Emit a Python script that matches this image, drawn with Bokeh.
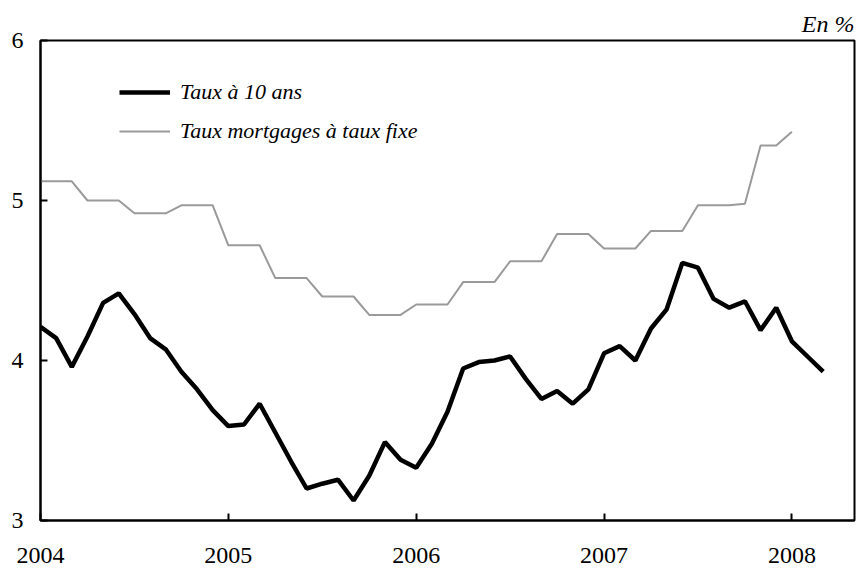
from bokeh.plotting import figure
from bokeh.models import Range1d, FixedTicker, Legend, LegendItem, Title
from bokeh.embed import file_html
from bokeh.resources import INLINE

# Monthly data, January 2004 onwards
start_year = 2004
taux_10_ans = [4.21, 4.14, 3.96, 4.15, 4.36, 4.42, 4.29, 4.14, 4.07, 3.93, 3.82, 3.69,
               3.59, 3.60, 3.73, 3.55, 3.37, 3.20, 3.23, 3.255, 3.125, 3.28, 3.49, 3.38,
               3.33, 3.48, 3.68, 3.95, 3.99, 4.00, 4.025, 3.885, 3.76, 3.81, 3.73, 3.82,
               4.045, 4.09, 4.00, 4.20, 4.32, 4.61, 4.58, 4.385, 4.33, 4.37, 4.19, 4.33,
               4.12, 4.025, 3.93]
taux_mortgages = [5.12, 5.12, 5.12, 5.00, 5.00, 5.00, 4.92, 4.92, 4.92, 4.97, 4.97, 4.97,
                  4.72, 4.72, 4.72, 4.515, 4.515, 4.515, 4.40, 4.40, 4.40, 4.285, 4.285, 4.285,
                  4.35, 4.35, 4.35, 4.49, 4.49, 4.49, 4.62, 4.62, 4.62, 4.79, 4.79, 4.79,
                  4.70, 4.70, 4.70, 4.81, 4.81, 4.81, 4.97, 4.97, 4.97, 4.98, 5.344, 5.344,
                  5.43]
x_ticks = [2004, 2005, 2006, 2007, 2008]
y_ticks = [3, 4, 5, 6]
labels = ["Taux à 10 ans", "Taux mortgages à taux fixe"]
unit_label = "En %"

x10 = [start_year + i / 12 for i in range(len(taux_10_ans))]
xm = [start_year + i / 12 for i in range(len(taux_mortgages))]

FONT = "Liberation Serif"

p = figure(width=859, height=569, output_backend="svg", toolbar_location=None,
           x_range=Range1d(2004, 2008 + 4 / 12), y_range=Range1d(3, 6),
           min_border_left=40, min_border_top=40, min_border_right=5, min_border_bottom=49)
p.background_fill_color = "white"
p.border_fill_color = "white"
p.outline_line_color = "black"
p.outline_line_width = 2
p.xgrid.visible = False
p.ygrid.visible = False

r_gray = p.line(xm, taux_mortgages, line_color="#9a9a9a", line_width=2)
r_black = p.line(x10, taux_10_ans, line_color="black", line_width=4.5)

for ax in (p.xaxis[0], p.yaxis[0]):
    ax.axis_line_color = "black"
    ax.axis_line_width = 2
    ax.major_tick_in = 7
    ax.major_tick_out = 0
    ax.major_tick_line_width = 2
    ax.minor_tick_line_color = None
    ax.major_label_text_font = FONT
    ax.major_label_text_font_size = "24px"
    ax.major_label_text_color = "black"

p.xaxis[0].ticker = FixedTicker(ticks=x_ticks)
p.yaxis[0].ticker = FixedTicker(ticks=y_ticks)
p.xaxis[0].major_label_standoff = 27
p.yaxis[0].major_label_standoff = 17

legend = Legend(items=[LegendItem(label=labels[0], renderers=[r_black]),
                       LegendItem(label=labels[1], renderers=[r_gray])],
                location=(79, 371), padding=0, margin=0,
                border_line_color=None, background_fill_alpha=0,
                glyph_width=51, glyph_height=36, label_height=36, spacing=3,
                label_standoff=10, label_text_font=FONT, label_text_font_style="italic",
                label_text_font_size="22px", label_text_color="black")
p.add_layout(legend)

p.add_layout(Title(text=unit_label, align="right", text_font=FONT, text_font_style="italic",
                   text_font_size="24px", text_color="black", standoff=7), "above")

open("out.html", "w").write(file_html(p, INLINE))
